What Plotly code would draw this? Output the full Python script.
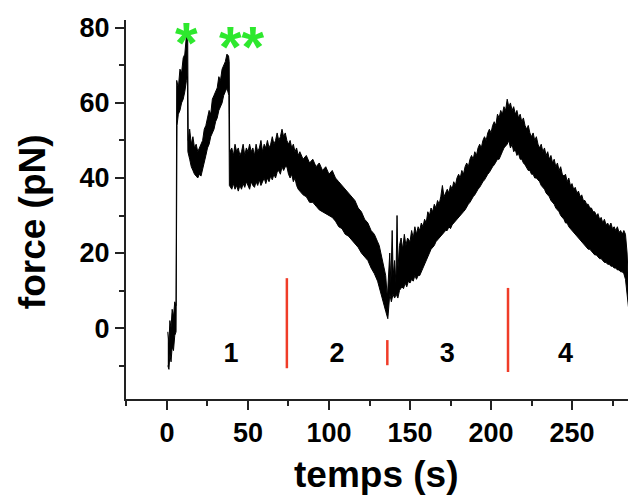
import plotly.graph_objects as go

# ---- data (time in s, force in pN) ----
# upper edge of the noisy force trace
upper_edge = [
    (0.5, -1), (1.2, -4), (1.8, 2), (2.5, 0), (3.2, 5), (4.0, 3), (4.8, 7), (5.6, 6),
    (6.0, 66), (7, 64), (8, 69), (9, 68), (10, 72), (11, 73), (12, 78), (12.8, 77),
    (13.1, 50), (14, 53), (15, 49), (16, 51), (17, 48), (18, 49), (19, 47), (20, 48),
    (21, 49), (22, 50), (23, 53), (24, 54), (25, 56), (26, 58), (27, 57), (28, 61),
    (29, 62), (30, 63), (31, 64), (32, 67), (33, 66), (34, 69), (35, 70), (36, 71),
    (37, 73), (38.0, 72.5), (38.4, 71),
    (38.7, 47), (40, 48), (41, 46), (42, 49), (43, 47), (44, 48), (45, 46), (46, 47),
    (47, 49), (48, 46), (49, 48), (50, 47), (51, 49), (52, 47), (53, 48), (54, 46),
    (55, 49), (56, 47), (57, 48), (58, 50), (59, 47), (60, 49), (61, 48), (62, 50),
    (63, 48), (64, 49), (65, 51), (66, 49), (67, 50), (68, 52), (69, 50), (70, 51),
    (71, 53), (72, 51), (73, 52), (74, 50),
    (75, 49), (76, 50), (77, 48), (78, 49), (79, 47), (80, 48), (81, 46), (82, 47),
    (84, 45), (86, 46), (88, 44), (90, 45), (92, 43), (94, 44), (96, 42), (98, 43),
    (100, 41), (102, 42), (104, 40), (106, 39), (108, 38), (110, 37), (112, 36),
    (114, 35), (116, 34), (118, 32), (120, 31), (122, 29), (124, 28), (126, 26),
    (128, 25), (130, 23), (131, 22), (132, 20), (133, 18), (134, 16), (135, 14), (136, 8),
    (136.8, 14), (137.5, 20), (138.2, 12), (139, 26), (139.6, 14), (140.5, 18),
    (141.3, 12), (142, 30), (142.6, 16), (143.5, 22), (144.5, 24), (145.5, 21),
    (146.5, 25), (147.5, 22), (148.5, 24), (150, 23), (151, 26), (152, 24), (153, 27),
    (154, 25), (155, 27), (156, 26), (157, 28), (158, 27), (159, 29), (160, 28),
    (161, 31), (162, 30), (163, 32), (164, 31), (165, 33), (166, 32), (167, 34),
    (168, 33), (169, 35), (170, 38), (171, 35), (172, 36), (173, 37), (174, 36),
    (175, 38), (176, 37), (177, 39), (178, 38), (179, 40), (180, 41), (181, 40),
    (182, 42), (183, 41), (184, 43), (185, 44), (186, 43), (187, 45), (188, 46),
    (189, 45), (190, 47), (191, 46), (192, 48), (193, 49), (194, 48), (195, 50),
    (196, 51), (197, 50), (198, 52), (199, 53), (200, 52), (201, 54), (202, 55),
    (203, 54), (204, 57), (205, 56), (206, 58), (207, 57), (208, 59), (209, 58),
    (210, 61), (211, 59),
    (212, 60), (213, 58), (214, 59), (215, 57), (216, 58), (217, 56), (218, 57),
    (219, 55), (220, 56), (221, 54), (222, 53), (223, 54), (224, 52), (225, 51),
    (226, 52), (227, 50), (228, 51), (229, 49), (230, 48), (231, 49), (232, 47),
    (233, 48), (234, 46), (235, 47), (236, 45), (237, 46), (238, 44), (239, 45),
    (240, 43), (241, 44), (242, 42), (243, 43), (244, 41), (245, 40.5), (246, 41),
    (247, 39), (248, 40), (249, 38), (250, 38.5), (251, 37), (252, 37.5), (253, 36),
    (254, 36.5), (255, 35), (256, 35.5), (257, 34), (258, 34), (259, 33), (260, 33),
    (261, 32), (262, 32), (263, 31), (264, 31), (265, 30), (266, 30.5), (267, 29),
    (268, 29.5), (269, 28), (270, 29), (271, 27.5), (272, 28), (273, 27), (274, 28),
    (275, 26.5), (276, 27), (277, 26), (278, 27), (279, 25.5), (280, 26), (281, 25),
    (282, 26), (283, 25), (284, 20), (285, 12), (285.8, 5), (286.3, 2),
]

# lower edge of the noisy force trace
lower_edge = [
    (0.5, -10), (1.2, -11), (1.8, -7), (2.5, -9), (3.2, -5), (4.0, -6), (4.8, -2), (5.6, -1),
    (6.2, 54), (7, 57), (8, 58), (9, 60), (10, 61), (11, 63), (12, 66), (12.6, 67),
    (12.9, 47), (14, 45), (15, 43), (16, 42), (17, 41), (18, 40.5), (19, 40), (20, 41),
    (21, 40.5), (22, 42), (23, 44), (24, 46), (25, 48), (26, 49), (27, 51), (28, 52),
    (29, 53), (30, 55), (31, 56), (32, 58), (33, 59), (34, 60), (35, 62), (36, 63),
    (37, 64), (38.2, 62),
    (38.5, 38), (40, 37), (41, 38.5), (42, 37), (43, 38), (44, 36.5), (45, 38), (46, 37),
    (47, 38.5), (48, 37.5), (49, 39), (50, 38), (51, 37), (52, 39), (53, 38), (54, 37.5),
    (55, 39), (56, 38), (57, 39.5), (58, 38), (59, 39), (60, 40), (61, 38.5), (62, 40),
    (63, 39), (64, 40.5), (65, 39.5), (66, 41), (67, 40), (68, 41.5), (69, 42), (70, 41),
    (71, 43), (72, 42), (73, 43), (74, 43),
    (75, 41), (76, 40), (77, 41), (78, 39), (79, 40), (80, 38), (81, 37), (82, 36.5),
    (84, 35.5), (86, 35), (88, 33.5), (90, 33.5), (92, 32.5), (94, 31.5), (96, 31),
    (98, 30.5), (100, 30), (102, 29.5), (104, 28.5), (106, 27), (108, 26.5), (110, 25),
    (112, 24.5), (114, 23.5), (116, 22.5), (118, 21.5), (120, 20), (122, 19), (124, 18),
    (126, 16), (128, 14.5), (130, 12.5), (131, 10.5), (132, 9.5), (133, 8), (134, 6),
    (135, 4.5), (136.3, 2.5),
    (136.6, 4), (137.5, 9), (138.5, 7), (139.5, 9), (140.5, 8), (141.5, 9), (142.5, 8),
    (143.5, 10), (145, 11), (146, 10.5), (147, 12), (148, 11), (149, 12.5), (150, 12),
    (151, 13), (152, 12.5), (153, 14), (154, 13), (155, 14), (156, 14), (157, 15.5),
    (158, 16), (159, 17), (160, 18), (161, 19), (162, 20), (163, 21), (164, 21.5),
    (165, 22), (166, 23), (167, 23.5), (168, 24), (169, 24.5), (170, 25), (171, 25.5),
    (172, 26), (173, 26), (174, 27), (175, 26.5), (176, 27.5), (177, 28), (178, 28.5),
    (179, 29), (180, 29.5), (181, 30), (182, 30.5), (183, 31), (184, 31.5), (185, 32),
    (186, 33), (187, 33.5), (188, 34), (189, 35), (190, 35.5), (191, 36), (192, 37),
    (193, 37.5), (194, 38), (195, 39), (196, 39.5), (197, 40), (198, 41), (199, 41.5),
    (200, 42), (201, 43), (202, 43.5), (203, 44), (204, 45), (205, 45), (206, 46),
    (207, 47), (208, 48), (209, 48.5), (210, 49), (211, 50),
    (212, 48), (213, 49), (214, 47), (215, 47.5), (216, 46), (217, 46.5), (218, 45),
    (219, 45), (220, 44), (221, 43.5), (222, 43), (223, 42), (224, 42), (225, 41),
    (226, 41), (227, 40), (228, 40), (229, 39.5), (230, 39), (231, 38), (232, 37.5),
    (233, 37), (234, 36), (235, 35.5), (236, 35), (237, 34), (238, 33.5), (239, 33),
    (240, 32), (241, 31.5), (242, 31), (243, 30), (244, 29.5), (245, 29), (246, 28),
    (247, 28), (248, 27), (249, 26.5), (250, 26), (251, 25.5), (252, 25), (253, 24.5),
    (254, 24), (255, 23.5), (256, 23), (257, 22.5), (258, 22), (259, 21.5), (260, 21),
    (261, 21), (262, 20.5), (263, 20), (264, 19.5), (265, 19.5), (266, 19), (267, 18.5),
    (268, 18.5), (269, 18), (270, 17.5), (271, 17.5), (272, 17), (273, 17), (274, 16.5),
    (275, 16.5), (276, 16), (277, 16), (278, 15.5), (279, 15.5), (280, 15), (281, 15),
    (282, 14.5), (283, 13), (284, 10), (285, 5), (286, 1.5),
]

# red phase-boundary markers
marker_t = [74, 136, 210.5, 286]
marker_top = [13.3, -3.2, 10.7, -3.7]
marker_bottom = [-10.7, -9.9, -11.7, -10.4]

# phase labels
phase_labels = ["1", "2", "3", "4"]
phase_t = [39.5, 105, 173, 246]
phase_f = [-7.2, -7.2, -7.2, -7.2]

# green asterisks marking rupture events (y = top of their text box, in pN)
star_labels = ["*", "**"]
star_t = [11.8, 46]
star_f = [85.3, 84.2]

x_ticks = [0, 50, 100, 150, 200, 250]
y_ticks = [0, 20, 40, 60, 80]
x_range = [-25.3, 289.5]
y_range = [-18.9, 82.1]

FONT = "Liberation Sans, Arial, Helvetica, sans-serif"

# ---- build figure ----
poly_t = [p[0] for p in upper_edge] + [p[0] for p in reversed(lower_edge)]
poly_f = [p[1] for p in upper_edge] + [p[1] for p in reversed(lower_edge)]

fig = go.Figure()
fig.add_trace(go.Scatter(
    x=poly_t, y=poly_f, mode="lines", fill="toself", fillcolor="black",
    line=dict(color="black", width=1), hoverinfo="skip", showlegend=False))

red_x, red_y = [], []
for t, a, b in zip(marker_t, marker_top, marker_bottom):
    red_x += [t, t, None]
    red_y += [a, b, None]
fig.add_trace(go.Scatter(x=red_x, y=red_y, mode="lines",
                         line=dict(color="#f03c28", width=2.5), showlegend=False))

fig.add_trace(go.Scatter(x=phase_t, y=phase_f, mode="text", text=phase_labels,
                         textfont=dict(family=FONT, size=27, color="black", weight="bold"),
                         cliponaxis=False, showlegend=False))

axis_common = dict(
    showline=True, linecolor="#222", linewidth=2, mirror=False,
    ticks="outside", ticklen=9, tickwidth=2, tickcolor="#222",
    showgrid=False, zeroline=False, automargin=False,
    tickfont=dict(family=FONT, size=27, color="black", weight="bold"),
)

title_font = dict(family=FONT, size=37, color="black", weight="bold")
star_font = dict(family=FONT, size=58, color="#2ee82e", weight="bold")

annotations = [
    dict(text="temps (s)", xref="paper", yref="paper", x=0.490, y=-0.2005,
         xanchor="center", yanchor="middle", showarrow=False, font=title_font),
    dict(text="force (pN)", xref="paper", yref="paper", x=-0.184, y=0.467,
         xanchor="center", yanchor="middle", textangle=-90, showarrow=False,
         font=title_font),
]
# stars sit above the plot area: place them on the paper y scale derived from the y axis
for lab, t, f in zip(star_labels, star_t, star_f):
    y_paper = (f - y_range[0]) / (y_range[1] - y_range[0])
    annotations.append(dict(text=lab, x=t, y=y_paper, xref="x", yref="paper",
                            xanchor="center", yanchor="top", showarrow=False,
                            font=star_font))

# the page adds an 8px body margin, so the figure is 8px smaller than the window
fig.update_layout(
    width=628, height=488,
    margin=dict(l=118, r=0, t=12, b=97),
    paper_bgcolor="white", plot_bgcolor="white",
    showlegend=False,
    xaxis=dict(range=x_range, tickvals=x_ticks,
               minor=dict(ticks="outside", ticklen=5, tickwidth=2, tickcolor="#222",
                          dtick=25, tick0=0, showgrid=False),
               **axis_common),
    yaxis=dict(range=y_range, tickvals=y_ticks,
               minor=dict(ticks="outside", ticklen=5, tickwidth=2, tickcolor="#222",
                          dtick=10, tick0=0, showgrid=False),
               **axis_common),
    annotations=annotations,
)

fig.write_html("out.html")
